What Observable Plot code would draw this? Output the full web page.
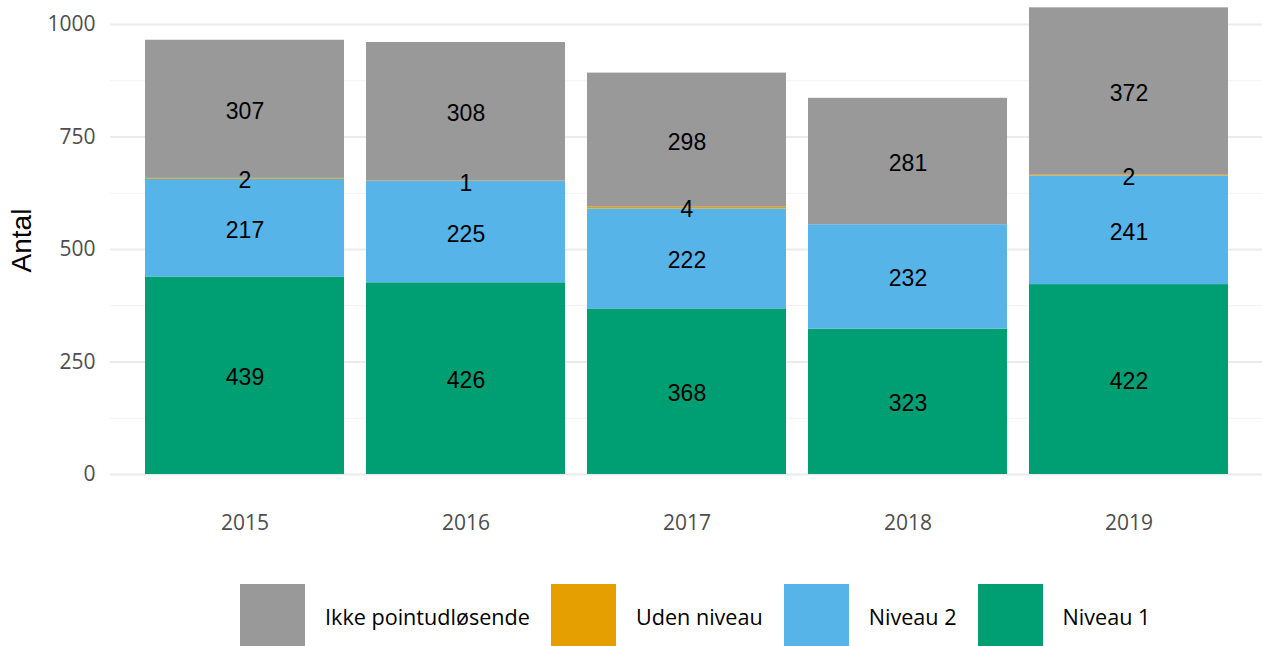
<!DOCTYPE html>
<html>
<head>
<meta charset="utf-8">
<script src="https://cdn.jsdelivr.net/npm/d3@7"></script>
<script src="https://cdn.jsdelivr.net/npm/@observablehq/plot@0.6"></script>
<style>
  body { margin: 0; background: #fff; }
  #chart { width: 1262px; }
  .legend { display: flex; align-items: center; padding-left: 240px; margin-top: 10px; height: 62px; overflow: visible;
            font-family: "Open Sans", sans-serif; font-size: 21.6px; color: #000; }
  .legend .sw { width: 65px; height: 65px; flex: none; }
  .legend .lb { margin-left: 20px; margin-right: 21px; white-space: nowrap; }
</style>
</head>
<body>
<div id="chart"></div>
<script>
const years = ["2015", "2016", "2017", "2018", "2019"];
const seriesNames = ["Niveau 1", "Niveau 2", "Uden niveau", "Ikke pointudløsende"];
const niveau1 = [439, 426, 368, 323, 422];
const niveau2 = [217, 225, 222, 232, 241];
const udenNiveau = [2, 1, 4, 0, 2];
const ikkePoint = [307, 308, 298, 281, 372];
const colors = ["#009E73", "#56B4E9", "#E69F00", "#999999"];
const majorTicks = [0, 250, 500, 750, 1000];
const minorTicks = [125, 375, 625, 875];
const legendOrder = ["Ikke pointudløsende", "Uden niveau", "Niveau 2", "Niveau 1"];

const seriesValues = [niveau1, niveau2, udenNiveau, ikkePoint];
const data = [];
years.forEach((yr, i) => {
  seriesNames.forEach((s, j) => data.push({year: yr, series: s, value: seriesValues[j][i]}));
});

const plot = Plot.plot({
  width: 1262,
  height: 575,
  marginLeft: 110,
  marginRight: 0,
  marginTop: 6,
  marginBottom: 101,
  style: {background: "#fff"},
  x: {domain: years, paddingInner: 0.1, paddingOuter: 0.145, label: null},
  y: {domain: [0, 1040], label: null},
  color: {domain: seriesNames, range: colors},
  marks: [
    Plot.ruleY(minorTicks, {stroke: "#f2f2f2", strokeWidth: 1}),
    Plot.ruleY(majorTicks, {stroke: "#ebebeb", strokeWidth: 2}),
    Plot.barY(data, Plot.stackY({x: "year", y: "value", fill: "series", order: seriesNames})),
    Plot.text(data, Plot.stackY({
      filter: d => d.value > 0,
      x: "year", y: "value", z: "series", order: seriesNames, text: d => String(d.value),
      fontSize: 23, dy: 2, fill: "#000", fontFamily: "Liberation Sans, Arial, sans-serif"
    })),
    Plot.axisY(majorTicks, {tickSize: 0, tickPadding: 15, fontSize: 21, fill: "#4d4d4d",
      fontFamily: "Open Sans, sans-serif", label: null, tickFormat: d => String(d)}),
    Plot.axisX({tickSize: 0, tickPadding: 41, fontSize: 21, fill: "#4d4d4d",
      fontFamily: "Open Sans, sans-serif", label: null}),
    Plot.text(["Antal"], {frameAnchor: "left", textAnchor: "middle", dx: -88, rotate: -90, fontSize: 28, fill: "#000",
      fontFamily: "Liberation Sans, Arial, sans-serif", y: () => 520})
  ]
});
document.getElementById("chart").appendChild(plot);

const legend = document.createElement("div");
legend.className = "legend";
legendOrder.forEach(name => {
  const sw = document.createElement("div");
  sw.className = "sw";
  sw.style.background = colors[seriesNames.indexOf(name)];
  const lb = document.createElement("div");
  lb.className = "lb";
  lb.textContent = name;
  legend.appendChild(sw);
  legend.appendChild(lb);
});
document.getElementById("chart").appendChild(legend);
</script>
</body>
</html>
